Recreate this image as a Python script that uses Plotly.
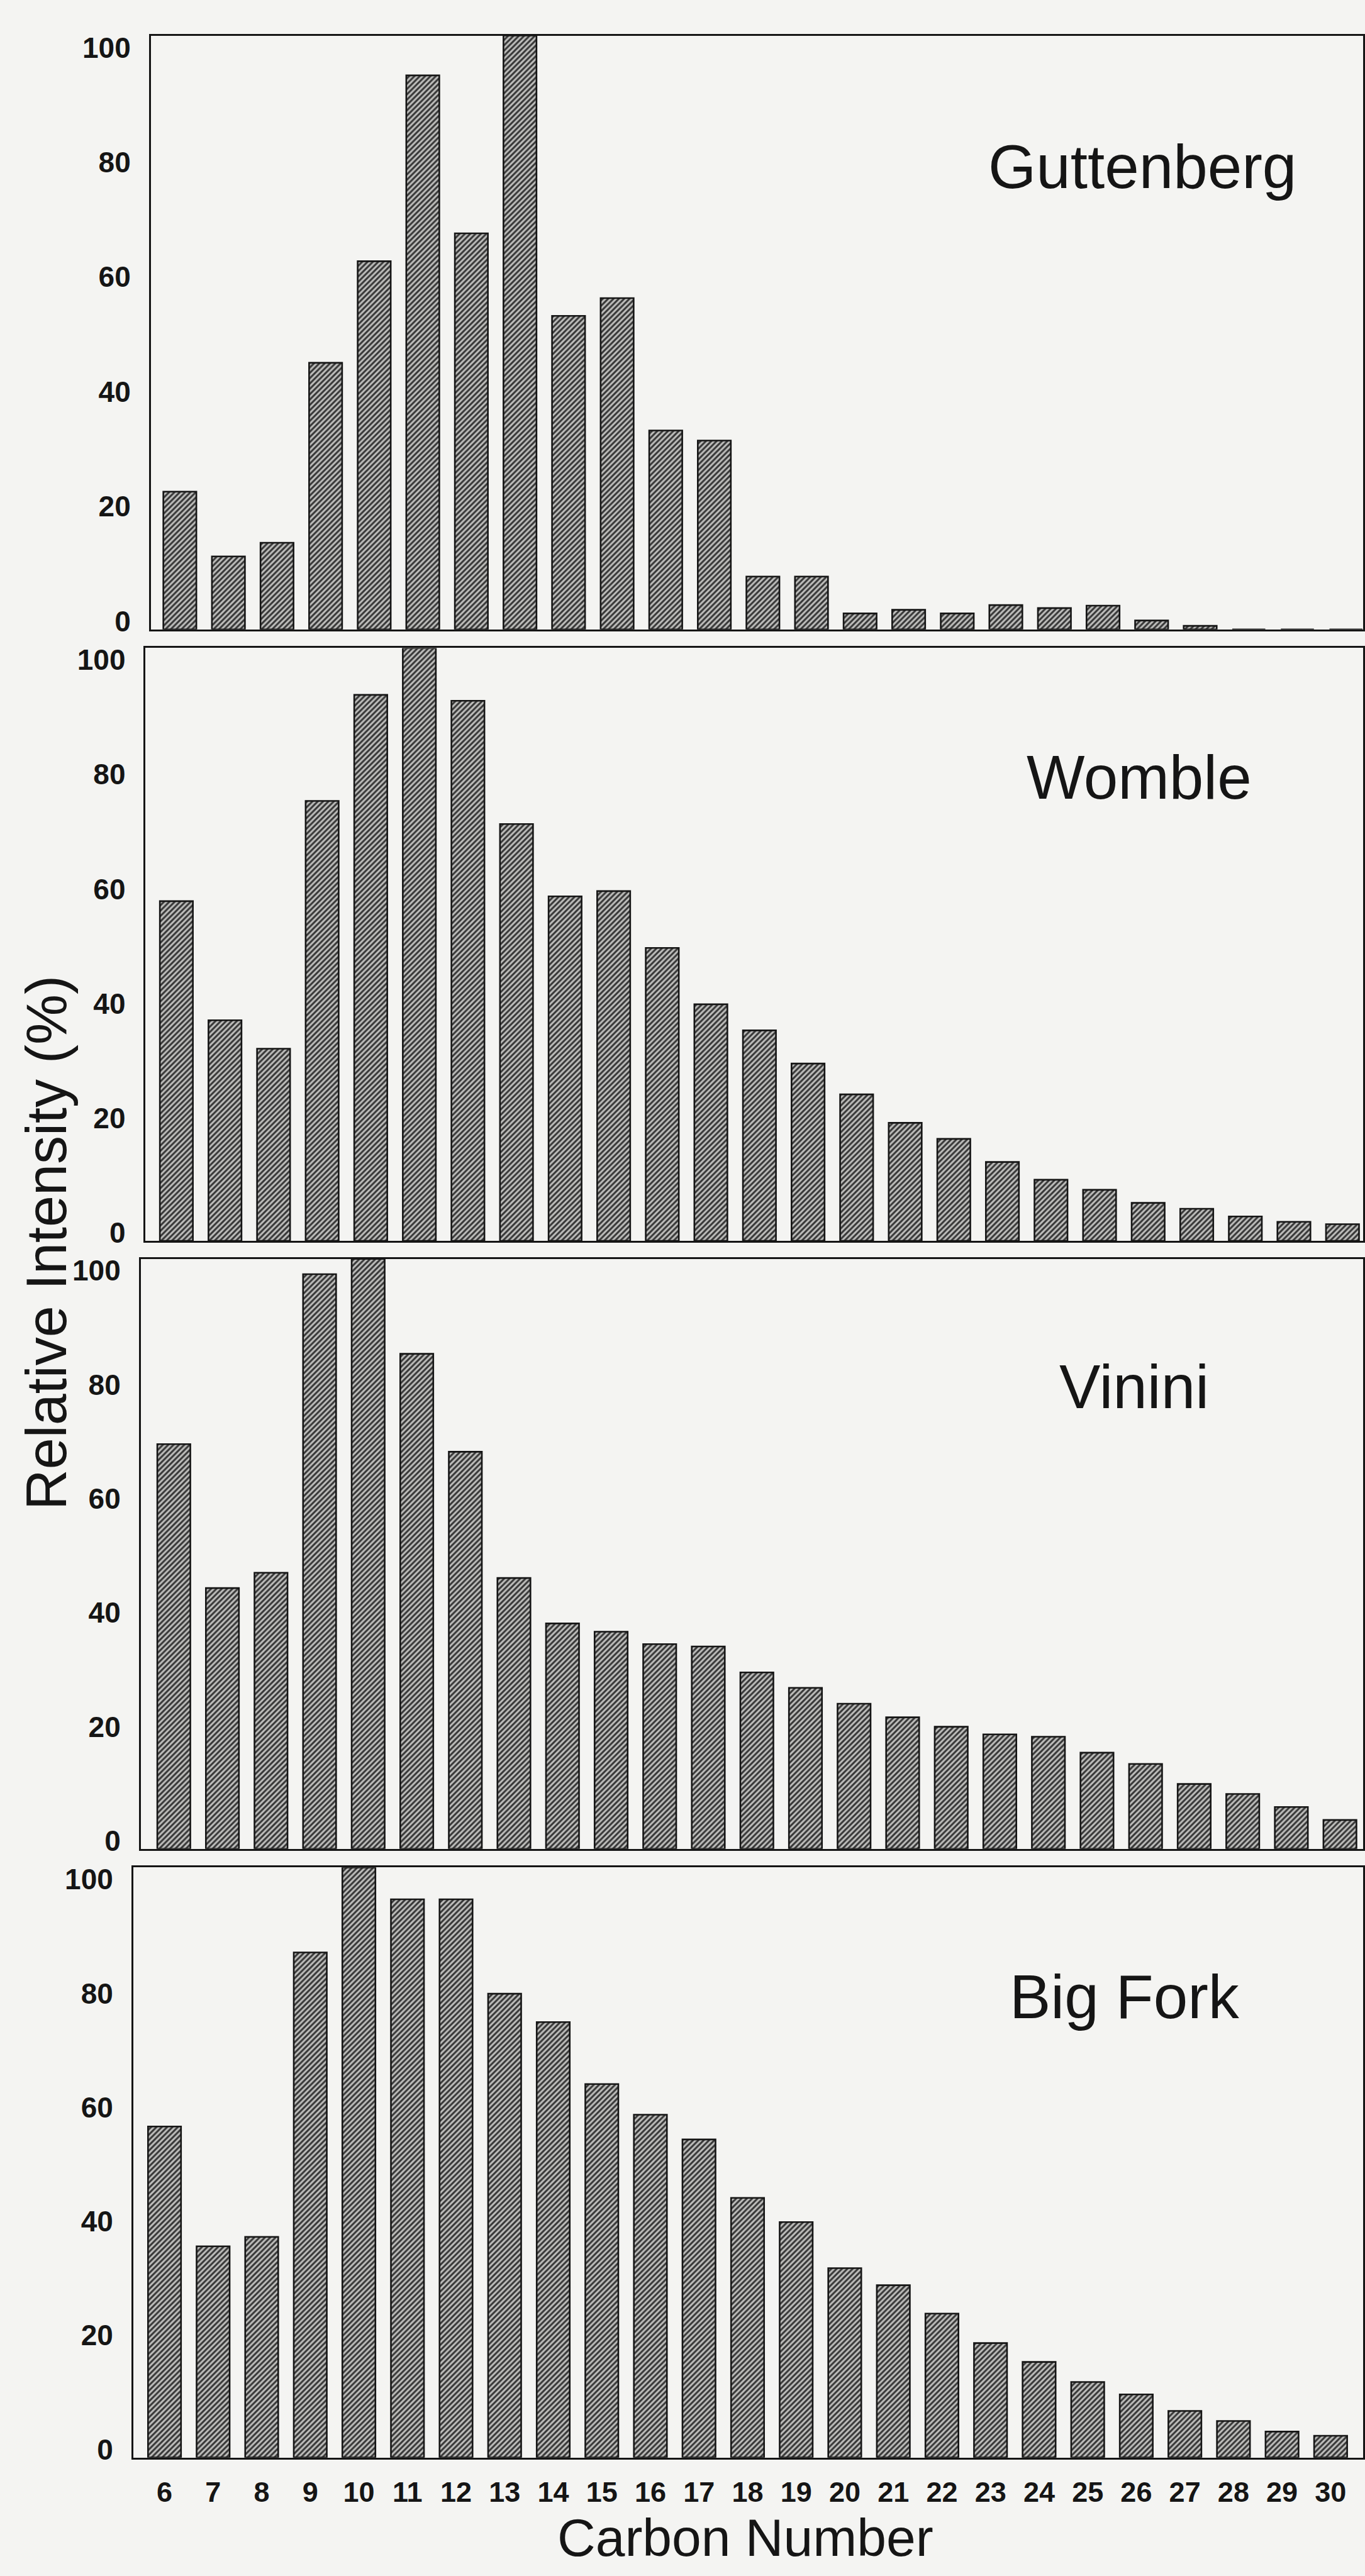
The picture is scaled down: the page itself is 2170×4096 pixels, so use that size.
import plotly.graph_objects as go

# ---------------- data ----------------
carbon = list(range(6, 31))
tick_text = [str(c) for c in carbon]

guttenberg = [23.2, 12.3, 14.6, 44.9, 62.0, 93.3, 66.7, 100, 52.8, 55.8, 33.5, 31.8,
              8.9, 8.9, 2.7, 3.3, 2.7, 4.1, 3.6, 4.0, 1.5, 0.6, 0, 0, 0]
womble = [57.3, 37.2, 32.4, 74.2, 92.1, 100, 91.1, 70.3, 58.1, 59.0, 49.4, 39.9,
          35.5, 29.9, 24.7, 19.9, 17.2, 13.3, 10.3, 8.6, 6.4, 5.4, 4.1, 3.2, 2.8]
vinini = [68.6, 44.2, 46.8, 97.4, 100, 83.9, 67.3, 45.9, 38.2, 36.8, 34.7, 34.3,
          29.9, 27.3, 24.6, 22.3, 20.7, 19.4, 19.0, 16.3, 14.4, 11.0, 9.3, 7.1, 4.9]
big_fork = [56.1, 35.8, 37.4, 85.6, 100, 94.6, 94.6, 78.6, 73.8, 63.3, 58.1, 53.9,
            44.0, 39.9, 32.1, 29.2, 24.4, 19.4, 16.2, 12.8, 10.7, 7.9, 6.2, 4.4, 3.7]

panel_names = ["Guttenberg", "Womble", "Vinini", "Big Fork"]
panel_values = [guttenberg, womble, vinini, big_fork]

y_ticks = [0, 20, 40, 60, 80, 100]
y_tick_text = [str(v) for v in y_ticks]

x_title = "Carbon Number"
y_title = "Relative Intensity (%)"

# ---------------- geometry (output px) ----------------
W, H = 2170, 4096
FONT = "Liberation Sans, Arial, Helvetica, sans-serif"
BG = "#f4f4f2"
INK = "#151515"

# per panel: left frame x, C6 centre x, top y, baseline y  (scan is slightly skewed)
left_px = [240.1, 231.8, 224.1, 212.1]
c6_px = [286.3, 280.8, 276.7, 261.9]
top_px = [49.8, 1028.4, 2004.4, 2976.9]
base_px = [998.7, 1975.6, 2947.2, 3919.8]
step_px = 77.35  # pixels per carbon number

name_pos = [(1819, 259), (1814, 1235), (1805, 2209), (1790, 3184)]

fig = go.Figure()

for i, (name, vals) in enumerate(zip(panel_names, panel_values)):
    n = i + 1
    xa = "x" if n == 1 else f"x{n}"
    ya = "y" if n == 1 else f"y{n}"
    fig.add_trace(go.Bar(
        x=carbon, y=vals, xaxis=xa, yaxis=ya, width=0.68,
        marker=dict(
            color="#8e8e8e",
            line=dict(color=INK, width=2.6),
            pattern=dict(shape="/", fgcolor="#363636", bgcolor="#bdbdbb",
                         size=6, solidity=0.5, fillmode="replace"),
        ),
        showlegend=False, hoverinfo="x+y",
    ))

    x0 = 6 - (c6_px[i] - left_px[i]) / step_px
    x1 = 6 + (W - c6_px[i]) / step_px
    xdom = [left_px[i] / W, 1.0]
    ydom = [1 - base_px[i] / H, 1 - top_px[i] / H]

    xaxis = dict(
        domain=xdom, range=[x0, x1], anchor=ya,
        showline=True, linecolor=INK, linewidth=2.6, mirror=True,
        showgrid=False, zeroline=False, ticks="",
        tickvals=carbon, ticktext=tick_text,
        showticklabels=(n == 4),
        tickfont=dict(family=FONT, size=45, color=INK, weight="bold"),
        ticklabelstandoff=14,
    )
    yaxis = dict(
        domain=ydom, range=[0, 100], anchor=xa,
        showline=True, linecolor=INK, linewidth=2.6, mirror=True,
        showgrid=False, zeroline=False, ticks="",
        tickvals=[1.4 + 0.966 * v for v in y_ticks], ticktext=y_tick_text,
        tickfont=dict(family=FONT, size=46, color=INK, weight="bold"),
        ticklabelstandoff=20,
    )
    fig.layout[f"xaxis{'' if n == 1 else n}"] = xaxis
    fig.layout[f"yaxis{'' if n == 1 else n}"] = yaxis

    fig.add_annotation(
        text=name, xref="paper", yref="paper",
        x=name_pos[i][0] / W, y=1 - name_pos[i][1] / H,
        xanchor="center", yanchor="middle", showarrow=False,
        font=dict(family=FONT, size=98, color=INK),
    )

fig.add_annotation(
    text=x_title, xref="paper", yref="paper",
    x=1187 / W, y=0.0, xanchor="center", yanchor="bottom", borderpad=0,
    showarrow=False, font=dict(family=FONT, size=84, color=INK),
)
fig.add_annotation(
    text=y_title, xref="paper", yref="paper", textangle=-90,
    x=74 / W, y=1 - 1979 / H, xanchor="center", yanchor="middle",
    showarrow=False, font=dict(family=FONT, size=90, color=INK),
)

fig.update_layout(
    width=W, height=H,
    margin=dict(l=0, r=0, t=0, b=0),
    paper_bgcolor=BG, plot_bgcolor=BG,
    bargap=0.3,
)

fig.write_html("out.html")
